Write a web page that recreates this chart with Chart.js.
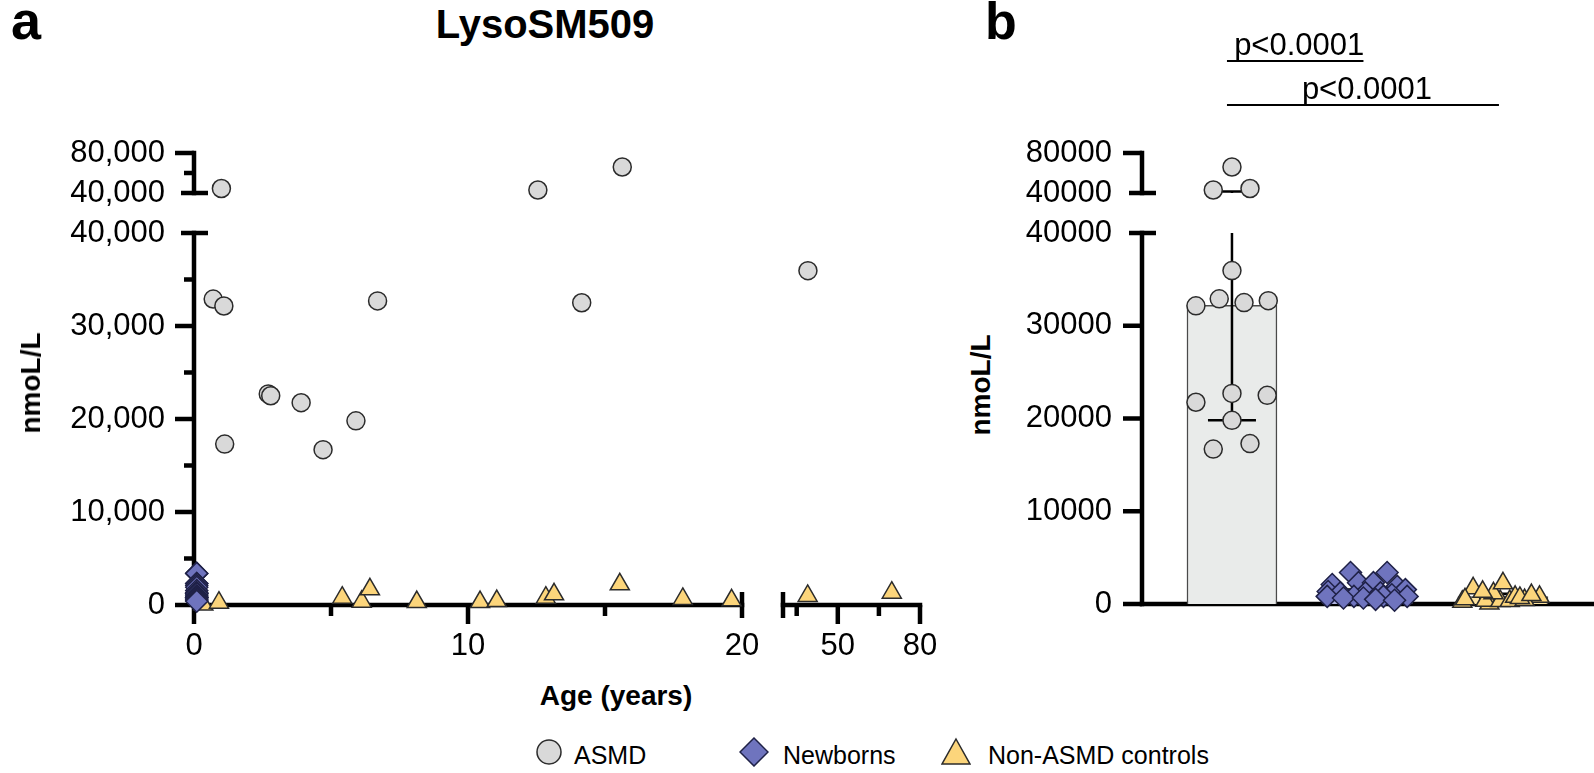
<!DOCTYPE html>
<html>
<head>
<meta charset="utf-8">
<title>LysoSM509</title>
<script src="https://cdn.jsdelivr.net/npm/chart.js@4.4.1/dist/chart.umd.min.js"></script>
<style>
  body { margin: 0; background: #fff; }
  #page { position: relative; width: 1594px; height: 773px; overflow: hidden; font-family: "Liberation Sans", Arial, sans-serif; color: #000; }
  #page canvas { position: absolute; }
  .txt { position: absolute; white-space: nowrap; line-height: 1; transform: translate(-50%, -50%); }
  .leg { position: absolute; white-space: nowrap; line-height: 1; transform: translate(0, -50%); font-size: 25px; }
  .mk { position: absolute; transform: translate(-50%, -50%); }
</style>
</head>
<body>
<div id="page"></div>
<script>
// groups (legend + panel b categories)
const groups = ['ASMD', 'Newborns', 'Non-ASMD controls'];

// panel a: age in years, LysoSM509 in nmol/L
const asmdAge   = [1.0, 12.55, 15.63, 0.70, 1.09, 1.12, 2.71, 2.80, 3.91, 4.71, 5.91, 6.70, 14.15, 39.1];
const asmdValue = [44500, 43000, 66000, 32900, 32150, 17300, 22700, 22500, 21750, 16700, 19800, 32700, 32500, 35950];

const newbornAge   = [0.1, 0.1, 0.1, 0.1, 0.1, 0.1, 0.1, 0.1, 0.1, 0.1, 0.1, 0.1, 0.1, 0.1, 0.1, 0.1, 0.1, 0.1, 0.1, 0.1];
const newbornValue = [3400, 3400, 2300, 2300, 2100, 1900, 1550, 1350, 1200, 1200, 1200, 1000, 820, 820, 820, 820, 650, 650, 500, 400];

const controlAge   = [0.34, 0.91, 5.41, 6.12, 6.42, 8.13, 10.44, 11.05, 12.84, 13.14, 15.54, 17.84, 19.62, 39.0, 69.7];
const controlValue = [50, 250, 780, 350, 1690, 320, 320, 430, 780, 1150, 2230, 650, 500, 970, 1320];

// panel b: horizontal scatter of each point inside its column (category units)
const asmdJitter    = [0.133, -0.138, 0, -0.094, -0.266, 0.133, 0, 0.26, -0.266, -0.138, 0, 0.268, 0.089, 0];
const newbornJitter = [-0.125, 0.145, -0.066, 0.044, -0.26, 0.22, 0.28, -0.29, -0.2, -0.015, 0.096, 0.18, -0.1, 0.118, 0.293, -0.297, -0.177, -0.03, 0.06, 0.2];
const controlJitter = [-0.1, -0.3, 0.27, -0.13, -0.22, -0.02, 0.05, 0.16, 0.09, -0.07, 0, 0.125, -0.28, 0.21, -0.15];

// panel b bars: median with range bars
const barMedian = [32200, 1370, 800];
const barLow    = [19800, 1190, 620];
const barHigh   = [41500, 1560, 1100];

// axis ticks
const ageTicksLeft  = [0, 10, 20];
const ageMinorLeft  = [5, 15];
const ageTicksRight = [50, 80];
const ageMinorRight = [35, 65];
const yTicksLow  = [0, 10000, 20000, 30000, 40000];
const yMinorLow  = [5000, 15000, 25000, 35000];
const yTicksHigh = [40000, 80000];
const yMinorHigh = [60000];

const sigBars = [
  { from: 0, to: 1, label: 'p<0.0001', rise: 92 },
  { from: 0, to: 2, label: 'p<0.0001', rise: 48 }
];

const FONT = '"Liberation Sans", Arial, sans-serif';
const AXIS_W = 4.5;

const page = document.getElementById('page');

// draws Prism-style axes (line, major/minor ticks, break caps) from the chart scales
const prismAxes = {
  id: 'prismAxes',
  beforeDatasetsDraw(chart, args, opts) {
    const ctx = chart.ctx, area = chart.chartArea;
    const h = AXIS_W / 2;
    ctx.save();
    ctx.strokeStyle = '#000';
    ctx.lineWidth = AXIS_W;
    ctx.lineCap = 'butt';
    const line = (x1, y1, x2, y2) => { ctx.beginPath(); ctx.moveTo(x1, y1); ctx.lineTo(x2, y2); ctx.stroke(); };
    if (opts.y) {
      const s = chart.scales.y, x = area.left;
      const caps = opts.y.caps || [];
      line(x, area.bottom + h, x, area.top - h);
      s.ticks.map(t => t.value).filter(v => !caps.includes(v)).forEach(v => {
        const p = s.getPixelForValue(v);
        line(x - 19, p, x, p);
      });
      (opts.y.minors || []).forEach(v => {
        const p = s.getPixelForValue(v);
        line(x - 10, p, x, p);
      });
      caps.forEach(v => {
        const p = s.getPixelForValue(v);
        line(x - 13, p, x + 14, p);
      });
    }
    if (opts.x) {
      const s = chart.scales.x, y = area.bottom;
      const caps = opts.x.caps || [];
      line(area.left - h, y, area.right + h, y);
      const majors = opts.x.majors || s.ticks.map(t => t.value);
      majors.filter(v => !caps.includes(v)).forEach(v => {
        const p = s.getPixelForValue(v);
        line(p, y, p, y + 19);
      });
      (opts.x.minors || []).forEach(v => {
        const p = s.getPixelForValue(v);
        line(p, y, p, y + 11);
      });
      caps.forEach(v => {
        const p = s.getPixelForValue(v);
        line(p, y - 13, p, y + 13);
      });
    }
    ctx.restore();
  }
};

// range bars drawn right after the bar dataset, under the points
const errorBars = {
  id: 'errorBars',
  afterDatasetDraw(chart, args) {
    if (args.meta.type !== 'bar') return;
    const ctx = chart.ctx, xs = chart.scales.x, ys = chart.scales.y;
    ctx.save();
    ctx.strokeStyle = '#000';
    ctx.lineWidth = 2.5;
    barLow.forEach((lo, i) => {
      const hi = barHigh[i];
      const a = Math.max(lo, ys.min), b = Math.min(hi, ys.max);
      if (a > b) return;
      const px = xs.getPixelForValue(i);
      ctx.beginPath();
      ctx.moveTo(px, ys.getPixelForValue(a));
      ctx.lineTo(px, ys.getPixelForValue(b));
      ctx.stroke();
      [lo, hi].forEach(v => {
        if (v < ys.min || v > ys.max) return;
        const py = ys.getPixelForValue(v);
        ctx.beginPath();
        ctx.moveTo(px - 24, py);
        ctx.lineTo(px + 24, py);
        ctx.stroke();
      });
    });
    ctx.restore();
  }
};

const sigPlugin = {
  id: 'sigBars',
  afterDraw(chart) {
    const ctx = chart.ctx, xs = chart.scales.x, top = chart.chartArea.top;
    ctx.save();
    ctx.strokeStyle = '#000';
    ctx.fillStyle = '#000';
    ctx.lineWidth = 2;
    ctx.font = '31px ' + FONT;
    ctx.textAlign = 'center';
    ctx.textBaseline = 'alphabetic';
    sigBars.forEach(s => {
      const x1 = xs.getPixelForValue(s.from) - 5, x2 = xs.getPixelForValue(s.to) - 4;
      const y = top - s.rise;
      ctx.beginPath(); ctx.moveTo(x1, y); ctx.lineTo(x2, y); ctx.stroke();
      ctx.fillText(s.label, (x1 + x2) / 2 + 4, y - 6);
    });
    ctx.restore();
  }
};

function pick(xs, ys, xr, yr) {
  const out = [];
  xs.forEach((x, i) => {
    const y = ys[i];
    if (x >= xr[0] && x <= xr[1] && y >= yr[0] && y <= yr[1]) out.push({ x, y });
  });
  return out;
}

// label offset comes from the (hidden) tick length so it does not eat into the plot area
function scaleOpts(min, max, ticks, showLabels, fmt, gap) {
  return {
    type: 'linear', min: min, max: max, offset: false,
    grid: { display: false, drawTicks: true, tickLength: gap },
    border: { display: false },
    afterBuildTicks: s => { s.ticks = ticks.map(v => ({ value: v })); },
    ticks: {
      display: showLabels, autoSkip: false, maxRotation: 0, padding: 0,
      color: '#000', font: { family: FONT, size: 31 },
      callback: fmt
    }
  };
}

const comma = v => v.toLocaleString('en-US');
const plain = v => String(v);

function pointStyle(i) {
  return [
    { pointStyle: 'circle', radius: 9, backgroundColor: '#d9d9d9', borderColor: '#2b2b2b' },
    { pointStyle: 'rectRot', radius: 11, backgroundColor: '#6f74be', borderColor: '#1f2147' },
    { pointStyle: 'triangle', radius: 11, backgroundColor: '#fcd57b', borderColor: '#2b2b2b' }
  ][i];
}

function scatterSet(i, data) {
  const st = pointStyle(i);
  return {
    type: 'scatter', label: groups[i], data: data, clip: false, order: 1,
    pointStyle: st.pointStyle, pointRadius: st.radius,
    backgroundColor: st.backgroundColor, borderColor: st.borderColor, borderWidth: 1.5
  };
}

function makeChart(box, area, cfg) {
  const c = document.createElement('canvas');
  c.width = box.w; c.height = box.h;
  c.style.left = box.x + 'px';
  c.style.top = box.y + 'px';
  page.appendChild(c);
  const o = cfg.options;
  const sz = { xh: box.y + box.h - area.b, yw: area.l - box.x };
  const pad = { left: 0, bottom: 0, top: area.t - box.y, right: box.x + box.w - area.r };
  o.responsive = false;
  o.animation = false;
  o.devicePixelRatio = 1;
  o.events = [];
  o.layout = { autoPadding: false, padding: Object.assign({}, pad) };
  o.scales.x.afterFit = s => { s.height = sz.xh; };
  o.scales.y.afterFit = s => { s.width = sz.yw; };
  o.plugins = Object.assign({ legend: { display: false }, tooltip: { enabled: false } }, o.plugins || {});
  const chart = new Chart(c, cfg);
  // nudge the layout until the plot area sits where the figure has it
  for (let k = 0; k < 4; k++) {
    const ca = chart.chartArea;
    const dt = (area.t - box.y) - ca.top, db = (area.b - box.y) - ca.bottom;
    const dl = (area.l - box.x) - ca.left, dr = (area.r - box.x) - ca.right;
    if (Math.abs(dt) + Math.abs(db) + Math.abs(dl) + Math.abs(dr) < 0.5) break;
    pad.top += dt;
    pad.right -= dr;
    sz.xh -= db;
    sz.yw += dl;
    chart.options.layout.padding = Object.assign({}, pad);
    chart.update('none');
  }
  return chart;
}

const LOW = [0, 40000], HIGH = [40000, 80000];
const LEFT = [0, 20], RIGHT = [30, 80];

// ---------- panel a ----------
function panelA(xr, yr, box, area, xScale, yScale, axes) {
  return makeChart(box, area, {
    type: 'scatter',
    data: {
      datasets: [
        scatterSet(0, pick(asmdAge, asmdValue, xr, yr)),
        scatterSet(1, pick(newbornAge, newbornValue, xr, yr)),
        scatterSet(2, pick(controlAge, controlValue, xr, yr))
      ]
    },
    options: { scales: { x: xScale, y: yScale }, plugins: { prismAxes: axes } },
    plugins: [prismAxes]
  });
}

panelA(LEFT, HIGH, { x: 0, y: 110, w: 765, h: 110 }, { l: 194, t: 153, r: 742, b: 193 },
  scaleOpts(0, 20, ageTicksLeft, false, plain, 0),
  scaleOpts(40000, 80000, yTicksHigh, true, comma, 29),
  { y: { minors: yMinorHigh, caps: [40000] } });

panelA(LEFT, LOW, { x: 0, y: 200, w: 765, h: 480 }, { l: 194, t: 233, r: 742, b: 605 },
  scaleOpts(0, 20, [0, 5, 10, 15, 20], true, v => ageTicksLeft.includes(v) ? String(v) : '', 23),
  scaleOpts(0, 40000, yTicksLow, true, comma, 29),
  { y: { minors: yMinorLow, caps: [40000] }, x: { majors: ageTicksLeft, minors: ageMinorLeft, caps: [20] } });

panelA(RIGHT, LOW, { x: 760, y: 200, w: 200, h: 480 }, { l: 783, t: 233, r: 920, b: 605 },
  scaleOpts(30, 80, [30, 50, 80], true, v => ageTicksRight.includes(v) ? String(v) : '', 23),
  scaleOpts(0, 40000, yTicksLow, false, plain, 0),
  { x: { majors: ageTicksRight, minors: ageMinorRight, caps: [30] } });

// ---------- panel b ----------
const barFill = ['#e9ebea', '#b3b6e2', '#fde3a0'];

function panelB(yr, box, area, yScale, axes, extra) {
  const cols = [asmdValue, newbornValue, controlValue];
  const jit = [asmdJitter, newbornJitter, controlJitter];
  const sets = cols.map((vals, g) => scatterSet(g, pick(jit[g].map(j => g + j), vals, [-1, 3], yr)));
  sets.push({
    type: 'bar', label: 'median', order: 5,
    data: groups.map((g, i) => ({ x: i, y: barMedian[i] })),
    backgroundColor: barFill, borderColor: '#4a4a4a', borderWidth: 1.5, barThickness: 90
  });
  return makeChart(box, area, {
    type: 'bar',
    data: { datasets: sets },
    options: {
      scales: { x: scaleOpts(-0.664, 2.672, [0, 1, 2], false, plain, 0), y: yScale },
      plugins: { prismAxes: axes }
    },
    plugins: [prismAxes, errorBars].concat(extra || [])
  });
}

panelB(HIGH, { x: 1000, y: 0, w: 594, h: 220 }, { l: 1142, t: 153, r: 1594, b: 193 },
  scaleOpts(40000, 80000, yTicksHigh, true, plain, 30),
  { y: { caps: [40000] } }, [sigPlugin]);

panelB(LOW, { x: 1000, y: 200, w: 594, h: 445 }, { l: 1142, t: 233, r: 1594, b: 604 },
  scaleOpts(0, 40000, yTicksLow, true, plain, 30),
  { y: { caps: [40000] }, x: { majors: [] } });

// ---------- text ----------
function addText(str, x, y, size, bold, rotate) {
  const d = document.createElement('div');
  d.className = 'txt';
  d.textContent = str;
  d.style.left = x + 'px';
  d.style.top = y + 'px';
  d.style.fontSize = size + 'px';
  if (bold) d.style.fontWeight = 'bold';
  if (rotate) d.style.transform = 'translate(-50%, -50%) rotate(-90deg)';
  page.appendChild(d);
}

addText('a', 26, 20, 54, true);
addText('b', 1001, 21, 52, true);
addText('LysoSM509', 545, 24, 40, true);
addText('nmoL/L', 31, 383, 28, true, true);
addText('nmoL/L', 981, 385, 28, true, true);
addText('Age (years)', 616, 696, 28, true);

// ---------- legend ----------
const legendX = [549, 754, 956];
const legendTextX = [574, 783, 988];
const marks = [
  '<circle cx="15" cy="15" r="12" fill="#d9d9d9" stroke="#2b2b2b" stroke-width="1.5"/>',
  '<polygon points="15,1 29,15 15,29 1,15" fill="#6f74be" stroke="#1f2147" stroke-width="1.5"/>',
  '<polygon points="15,2 29,27 1,27" fill="#fcd57b" stroke="#2b2b2b" stroke-width="1.5"/>'
];
groups.forEach((g, i) => {
  const m = document.createElement('div');
  m.className = 'mk';
  m.style.left = legendX[i] + 'px';
  m.style.top = '754px';
  m.innerHTML = '<svg width="30" height="30" viewBox="0 0 30 30">' + marks[i] + '</svg>';
  page.appendChild(m);
  const t = document.createElement('div');
  t.className = 'leg';
  t.textContent = g;
  t.style.left = legendTextX[i] + 'px';
  t.style.top = '755px';
  page.appendChild(t);
});
</script>
</body>
</html>
